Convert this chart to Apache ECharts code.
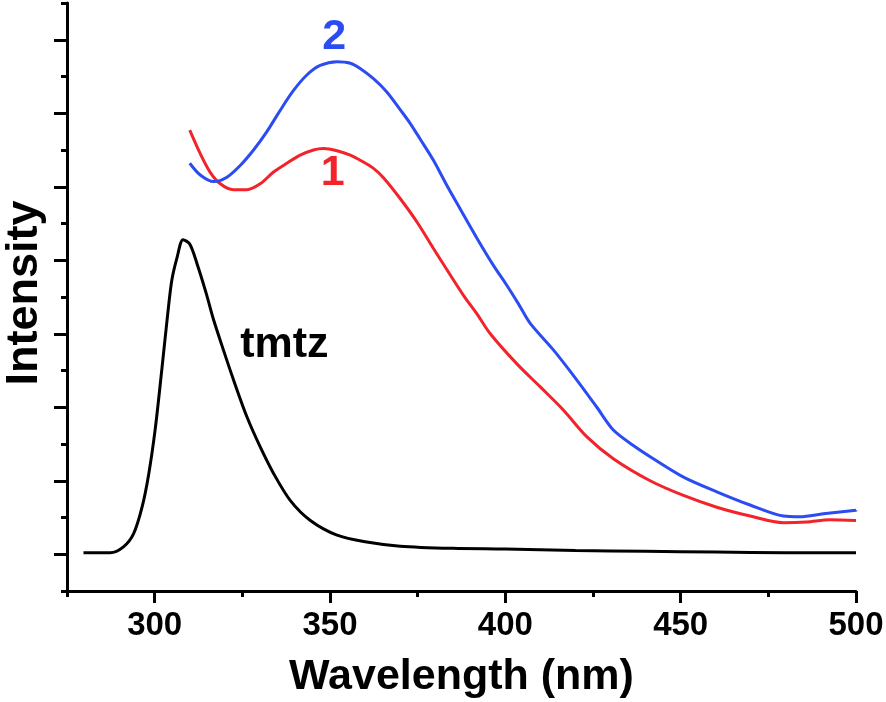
<!doctype html>
<html>
<head>
<meta charset="UTF-8">
<title>Emission spectra</title>
<script src="https://cdn.jsdelivr.net/npm/echarts@6/dist/echarts.min.js"></script>
<style>
  html, body { margin: 0; padding: 0; background: #fff; }
  #chart { width: 886px; height: 702px; }
</style>
</head>
<body>
<div id="chart"></div>
<script>
// wavelengths (nm) and intensities (1 unit = one major y tick)
var tmtzWl = [279.7, 287.3, 291.1, 294.0, 296.4, 298.3, 300.2, 302.1, 303.7, 304.9, 306.4, 308.1, 310.0, 312.1, 314.7, 316.8, 319.6, 322.5, 326.3, 330.1, 333.9, 338.7, 344.4, 352.0, 360, 370, 385, 400, 420, 440, 460, 480, 500];
var tmtzI  = [0.02, 0.02, 0.10, 0.28, 0.64, 1.09, 1.72, 2.54, 3.26, 3.73, 4.04, 4.28, 4.22, 3.95, 3.55, 3.19, 2.78, 2.37, 1.87, 1.46, 1.10, 0.73, 0.46, 0.26, 0.17, 0.11, 0.08, 0.07, 0.05, 0.04, 0.03, 0.02, 0.02];

var c1Wl = [310.0, 313.0, 315.8, 318.7, 322.5, 326.3, 330.1, 333.9, 337.7, 341.5, 345.3, 348.1, 352.0, 355.8, 359.0, 362.4, 365.3, 370.0, 374.8, 379.5, 384.3, 388.1, 391.9, 395.7, 403.3, 409.9, 416.6, 423.2, 430.8, 441.3, 450.8, 460.3, 469.8, 479.3, 485.9, 492.6, 500];
var c1I  = [5.77, 5.45, 5.20, 5.04, 4.96, 4.96, 5.04, 5.20, 5.32, 5.43, 5.50, 5.52, 5.49, 5.43, 5.35, 5.25, 5.12, 4.84, 4.52, 4.16, 3.80, 3.52, 3.27, 3.00, 2.59, 2.28, 1.96, 1.60, 1.30, 1.00, 0.80, 0.64, 0.52, 0.43, 0.44, 0.47, 0.46];

var c2Wl = [310.0, 313.0, 316.8, 320.6, 324.4, 328.2, 332.0, 335.8, 339.6, 343.4, 347.2, 352.0, 355.8, 358.6, 362.4, 366.2, 370.0, 372.9, 375.7, 379.5, 383.3, 387.1, 391.9, 396.6, 400.4, 403.7, 407.1, 413.7, 420.4, 426.1, 430.8, 436.5, 442.2, 450.8, 460.3, 469.8, 479.3, 484.0, 490.7, 500];
var c2I  = [5.32, 5.16, 5.07, 5.13, 5.29, 5.50, 5.75, 6.04, 6.31, 6.52, 6.65, 6.70, 6.68, 6.61, 6.47, 6.29, 6.05, 5.86, 5.65, 5.36, 5.02, 4.70, 4.30, 3.93, 3.66, 3.41, 3.14, 2.78, 2.37, 2.00, 1.69, 1.48, 1.30, 1.05, 0.85, 0.67, 0.52, 0.51, 0.55, 0.60];

var xMajor = [300, 350, 400, 450, 500];
var xMinor = [275, 325, 375, 425, 475];
var yMajor = [0, 1, 2, 3, 4, 5, 6, 7];
var yMinor = [-0.5, 0.5, 1.5, 2.5, 3.5, 4.5, 5.5, 6.5, 7.5];

// curve labels: [wavelength, intensity, text]
var tagTmtz = [337, 2.84, 'tmtz'];
var tag1 = [350.8, 5.19, '1'];
var tag2 = [351.2, 7.03, '2'];

var FONT = "'Liberation Sans', Arial, sans-serif";
var BLUE = '#2b4cf2';
var RED = '#f2232a';

function pairs(xs, ys) {
  return xs.map(function (x, i) { return [x, ys[i]]; });
}

function tag(t, color) {
  return {
    symbol: 'circle',
    symbolSize: 0,
    silent: true,
    data: [{ coord: [t[0], t[1]], value: t[2] }],
    label: {
      show: true, position: 'inside', formatter: t[2],
      color: color, fontSize: 43, fontWeight: 'bold', fontFamily: FONT
    }
  };
}

var chart = echarts.init(document.getElementById('chart'));

var lineAx = { show: true, onZero: false, lineStyle: { color: '#000', width: 3 } };

chart.setOption({
  animation: false,
  backgroundColor: '#fff',
  grid: { left: 67, right: 30, top: 3, bottom: 111, containLabel: false, outerBoundsMode: 'none' },
  xAxis: [{
    type: 'value', min: 275, max: 500,
    axisLine: lineAx,
    axisTick: { show: true, length: 12, customValues: xMajor, lineStyle: { color: '#000', width: 3 } },
    axisLabel: { customValues: xMajor, margin: 18, color: '#000', fontSize: 33, fontWeight: 'bold', fontFamily: FONT },
    splitLine: { show: false },
    name: 'Wavelength (nm)', nameLocation: 'middle', nameGap: 65,
    nameTextStyle: { color: '#000', fontSize: 43, fontWeight: 'bold', fontFamily: FONT }
  }, {
    type: 'value', min: 275, max: 500, position: 'bottom',
    axisLine: { show: false, onZero: false },
    axisTick: { show: true, length: 6, customValues: xMinor, lineStyle: { color: '#000', width: 3 } },
    axisLabel: { show: false },
    splitLine: { show: false }
  }],
  yAxis: [{
    type: 'value', min: -0.5, max: 7.5,
    axisLine: lineAx,
    axisTick: { show: true, length: 13, customValues: yMajor, lineStyle: { color: '#000', width: 3 } },
    axisLabel: { show: false },
    splitLine: { show: false },
    name: 'Intensity', nameLocation: 'middle', nameGap: 20,
    nameTextStyle: { color: '#000', fontSize: 45, fontWeight: 'bold', fontFamily: FONT, padding: [0, 0, 0, 8] }
  }, {
    type: 'value', min: -0.5, max: 7.5, position: 'left',
    axisLine: { show: false, onZero: false },
    axisTick: { show: true, length: 6, customValues: yMinor, lineStyle: { color: '#000', width: 3 } },
    axisLabel: { show: false },
    splitLine: { show: false }
  }],
  series: [{
    name: 'tmtz', type: 'line', smooth: 0.3, showSymbol: false,
    data: pairs(tmtzWl, tmtzI),
    lineStyle: { color: '#000', width: 3 },
    markPoint: tag(tagTmtz, '#000')
  }, {
    name: '1', type: 'line', smooth: 0.3, showSymbol: false,
    data: pairs(c1Wl, c1I),
    lineStyle: { color: RED, width: 3 },
    markPoint: tag(tag1, RED)
  }, {
    name: '2', type: 'line', smooth: 0.3, showSymbol: false,
    data: pairs(c2Wl, c2I),
    lineStyle: { color: BLUE, width: 3 },
    markPoint: tag(tag2, BLUE)
  }]
});
</script>
</body>
</html>
